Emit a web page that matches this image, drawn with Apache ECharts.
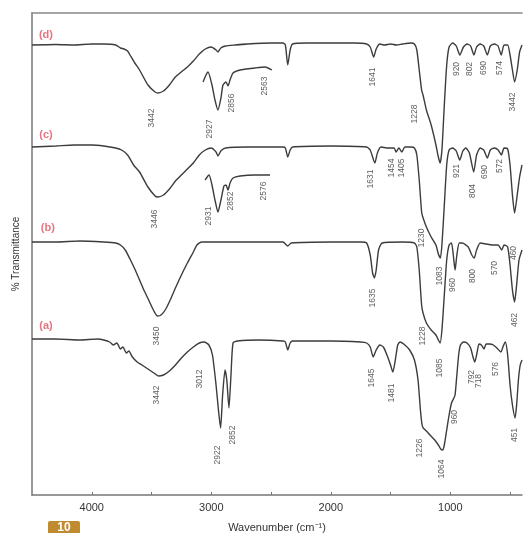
<!DOCTYPE html>
<html><head><meta charset="utf-8">
<script src="https://cdn.jsdelivr.net/npm/echarts@6/dist/echarts.min.js"></script>
<style>html,body{margin:0;padding:0;background:#fff}#c{width:523px;height:533px}</style>
</head><body><div id="c"></div>
<script>
// Wavenumber (cm^-1) vs offset transmittance (arbitrary units, stacked)
const traceD = [[4500,450],[4300,450.5],[4150,450],[4000,451],[3900,451],[3800,450],[3760,447],[3730,446],[3700,444],[3680,440],[3640,432],[3600,425],[3530,410],[3470,403],[3446,402],[3400,404],[3350,410],[3300,418],[3200,428],[3150,434],[3100,441],[3050,446],[3000,448],[2960,445],[2944,443],[2920,447],[2880,449],[2800,450],[2700,451],[2500,452],[2400,452],[2380,450],[2360,430],[2340,445],[2320,451],[2200,452],[2000,452],[1800,452],[1700,451],[1670,448],[1641,438],[1620,446],[1590,451],[1550,450],[1500,451],[1450,450],[1400,451],[1330,452],[1300,451],[1280,445],[1260,425],[1240,405],[1228,400],[1200,385],[1160,370],[1120,350],[1100,338],[1085,332],[1070,345],[1050,390],[1030,430],[1010,448],[980,452],[950,449],[920,440],[890,448],[860,451],[830,449],[802,440],[780,448],[750,451],[720,449],[690,440],[665,449],[630,451],[600,449],[574,440],[550,450],[520,450],[500,440],[480,425],[462,413],[440,425],[420,443],[400,450]];
const insetD = [[3069,413],[3044,420],[3027,423],[2994,410],[2969,395],[2944,385],[2919,397],[2902,410],[2877,413],[2860,409],[2843,415],[2818,422],[2759,425],[2634,427],[2550,428],[2492,425]];
const traceC = [[4500,348],[4300,349],[4150,350],[4000,350],[3900,349],[3800,347],[3750,345],[3700,340],[3650,330],[3600,323],[3530,308],[3470,299],[3446,298],[3400,300],[3350,306],[3300,314],[3200,326],[3150,332],[3100,340],[3050,345],[3000,347],[2960,343],[2944,339],[2920,344],[2880,347],[2700,348],[2400,348],[2380,347],[2360,338],[2340,345],[2320,348],[2000,349],[1700,348],[1670,345],[1631,332],[1610,342],[1580,348],[1520,347],[1470,347],[1454,343],[1430,347],[1405,343],[1380,348],[1330,348],[1300,347],[1280,340],[1260,315],[1240,283],[1230,278],[1200,268],[1160,258],[1120,250],[1100,241],[1083,237],[1070,250],[1050,290],[1030,330],[1010,345],[980,347],[950,344],[921,335],[895,344],[870,347],[840,342],[804,323],[780,340],[750,347],[720,345],[690,337],[665,345],[630,347],[600,345],[572,340],[550,347],[520,346],[500,330],[480,300],[462,282],[440,300],[420,318],[400,330]];
const insetC = [[3052,315],[3019,320],[2994,310],[2969,295],[2944,283],[2919,295],[2894,309],[2877,310],[2860,305],[2843,312],[2818,317],[2759,319],[2634,320],[2508,320]];
const traceB = [[4500,253],[4300,253],[4100,254],[3900,253],[3800,252],[3760,250],[3720,245],[3680,236],[3640,226],[3600,215],[3560,204],[3520,194],[3480,184],[3450,179],[3420,180],[3380,186],[3340,196],[3300,207],[3250,220],[3200,232],[3150,243],[3120,250],[3080,253],[3000,253],[2800,253],[2400,253],[2360,249],[2330,252],[2000,253],[1750,253],[1700,252],[1670,240],[1650,222],[1635,217],[1620,225],[1600,245],[1570,252],[1400,253],[1300,252],[1280,248],[1260,225],[1240,190],[1228,182],[1200,172],[1160,165],[1120,160],[1100,155],[1085,152],[1070,165],[1050,200],[1030,235],[1010,250],[990,252],[975,240],[960,225],[945,240],[925,252],[900,252],[850,248],[820,240],[800,237],[780,245],[750,252],[700,251],[650,250],[600,250],[570,245],[550,250],[520,248],[500,230],[480,205],[462,193],[445,210],[425,235],[400,245]];
const traceA = [[4500,156],[4300,156],[4100,155],[3950,156],[3900,155],[3850,153],[3820,150],[3790,152],[3760,146],[3740,148],[3710,142],[3690,144],[3660,138],[3620,133],[3580,130],[3530,126],[3480,122],[3442,119],[3400,120],[3350,124],[3300,130],[3250,137],[3200,143],[3150,148],[3100,152],[3060,153],[3020,150],[2990,140],[2960,110],[2940,85],[2922,67],[2905,100],[2885,125],[2870,115],[2852,87],[2835,120],[2818,152],[2780,154],[2600,155],[2400,154],[2380,153],[2360,145],[2340,152],[2320,154],[2000,154],[1750,153],[1700,152],[1670,148],[1645,138],[1620,145],[1590,150],[1560,148],[1530,140],[1500,130],[1481,123],[1460,135],[1440,150],[1421,153],[1380,150],[1340,145],[1300,135],[1270,115],[1250,85],[1236,70],[1226,67],[1200,64],[1170,60],[1130,55],[1100,50],[1080,46],[1064,45],[1050,50],[1030,65],[1010,80],[990,92],[970,97],[960,100],[945,120],[930,140],[915,150],[890,153],[860,152],[830,147],[810,138],[795,133],[775,143],[760,151],[740,150],[718,146],[700,151],[670,151],[640,150],[610,147],[576,143],[560,148],[540,153],[520,140],[500,110],[480,90],[458,77],[445,90],[430,115],[415,130],[400,135]];
// Peak annotations: [wavenumber position, offset, text]
const peakLabelsD = [[3496,377,'3442'],[3010,366,'2927'],[2826,392,'2856'],[2550,409,'2563'],[1646,418,'1641'],[1295,381,'1228'],[944,426,'920'],[835,426,'802'],[718,427,'690'],[584,427,'574'],[475,393,'3442']];
const peakLabelsC = [[3471,276,'3446'],[3019,279,'2931'],[2835,294,'2852'],[2559,304,'2576'],[1663,316,'1631'],[1487,327,'1454'],[1404,327,'1405'],[1236,257,'1230'],[1086,219,'1083'],[944,324,'921'],[810,304,'804'],[709,323,'690'],[584,329,'572'],[467,242,'460']];
const peakLabelsB = [[3454,159,'3450'],[1646,197,'1635'],[1228,159,'1228'],[1086,127,'1085'],[977,210,'960'],[810,219,'800'],[626,227,'570'],[458,175,'462']];
const peakLabelsA = [[3454,100,'3442'],[3094,116,'3012'],[2944,40,'2922'],[2818,60,'2852'],[1655,117,'1645'],[1487,102,'1481'],[1253,47,'1226'],[1069,26,'1064'],[960,78,'960'],[818,118,'792'],[759,114,'718'],[617,126,'576'],[458,60,'451']];
const traceTags = [[4383,460,'(d)'],[4383,360,'(c)'],[4367,267,'(b)'],[4383,169,'(a)']];
const xTickLabels = [1000,2000,3000,4000];
const xTickMarks = [500,1000,1500,2000,2500,3000,3500,4000];

const chart = echarts.init(document.getElementById('c'));
const FONT = 'Liberation Sans, Arial, sans-serif';
const lineStyle = {color:'#3c3c3c', width:1.4};
function line(data){return {type:'line',data,showSymbol:false,smooth:0.2,lineStyle,silent:true,animation:false,z:2};}
function labels(arr, color, size, rot, bold){
  return {type:'scatter',data:arr,symbolSize:0,animation:false,silent:true,z:5,
    label:{show:true,position:'inside',rotate:rot,formatter:p=>p.value[2],color,fontSize:size,
      fontFamily:FONT,fontWeight:bold?'bold':'normal'}};
}
chart.setOption({
  backgroundColor:'#fff',
  animation:false,
  grid:{left:32,right:1,top:13,bottom:38,containLabel:false,outerBoundsMode:'none'},
  xAxis:[{type:'value',min:400,max:4500,inverse:true,
    axisLine:{show:true,lineStyle:{color:'#777',width:1.5}},
    axisTick:{show:true,inside:true,length:3,customValues:xTickMarks,lineStyle:{color:'#777'}},
    axisLabel:{customValues:xTickLabels,formatter:v=>String(v),color:'#333',fontSize:11,fontFamily:FONT,margin:7},
    splitLine:{show:false},
    name:'Wavenumber (cm\u207B\u00B9)',nameLocation:'middle',nameGap:27,
    nameTextStyle:{color:'#333',fontSize:11,fontFamily:FONT}},
   {type:'value',position:'top',min:400,max:4500,inverse:true,
    axisLine:{show:true,lineStyle:{color:'#888',width:1.5}},axisTick:{show:false},axisLabel:{show:false},splitLine:{show:false}}],
  yAxis:{type:'value',min:0,max:482,
    axisLine:{show:true,lineStyle:{color:'#777',width:1.5}},axisTick:{show:false},axisLabel:{show:false},splitLine:{show:false},
    name:'% Transmittance',nameLocation:'middle',nameGap:11,
    nameTextStyle:{color:'#333',fontSize:10,fontFamily:FONT}},
  series:[
    line(traceD),line(insetD),line(traceC),line(insetC),line(traceB),line(traceA),
    labels(peakLabelsD,'#333',8.5,90,false),
    labels(peakLabelsC,'#333',8.5,90,false),
    labels(peakLabelsB,'#333',8.5,90,false),
    labels(peakLabelsA,'#333',8.5,90,false),
    labels(traceTags,'#e05060',11,0,true)
  ],
  graphic:[{type:'group',left:48,top:521,children:[
    {type:'rect',shape:{x:0,y:0,width:32,height:14,r:2},style:{fill:'#c08a2e'}},
    {type:'text',style:{x:16,y:1,text:'10',fill:'#fff',font:'bold 12px Liberation Sans, Arial',textAlign:'center'}}]}]
});
</script></body></html>
